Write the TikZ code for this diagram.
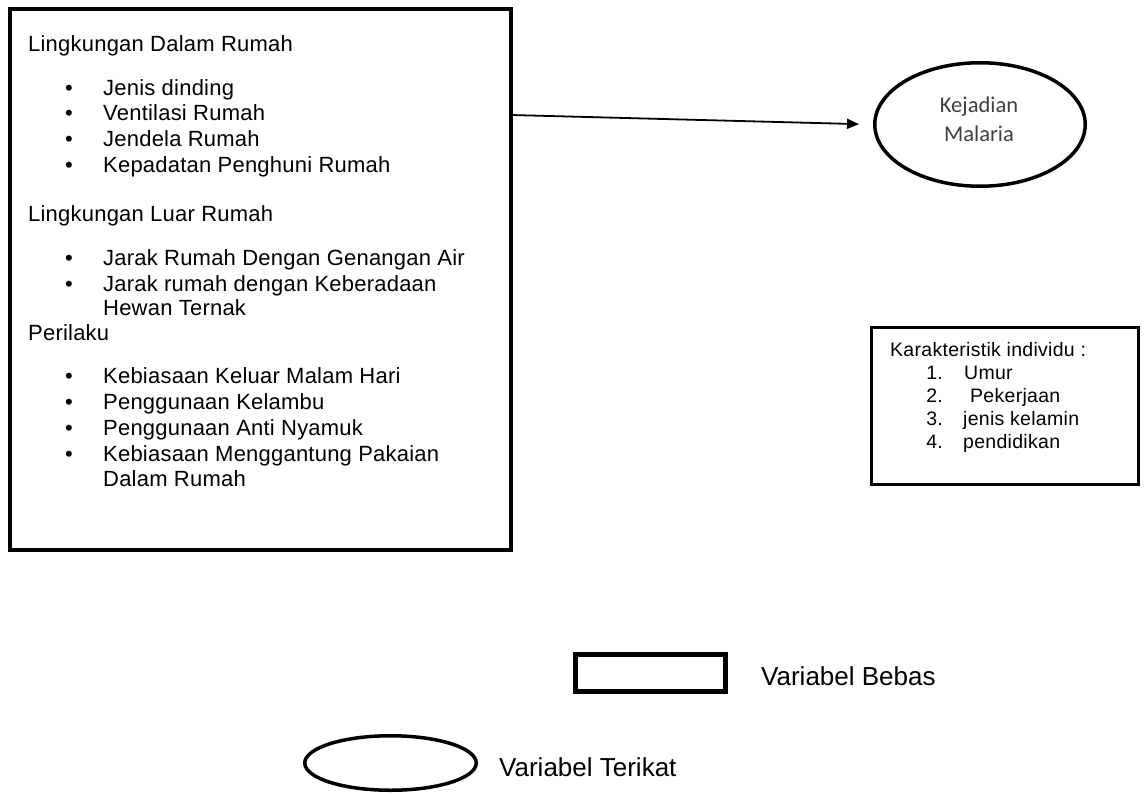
\documentclass[tikz,border=0pt]{standalone}
\usepackage{fontspec}
\setmainfont{Liberation Sans}
\newfontfamily\trkfont[LetterSpace=1]{Liberation Sans}
\newfontfamily\ktrkfont[LetterSpace=1.5]{Liberation Sans}
\newfontfamily\calfont{Carlito}
\usetikzlibrary{arrows.meta,shapes.geometric}
\definecolor{elltext}{HTML}{404040}
\begin{document}
\begin{tikzpicture}[x=1pt,y=-1pt,
  boxtext/.style={anchor=base west,inner sep=0pt,font=\trkfont\fontsize{22}{26}\selectfont},
  bul/.style={anchor=base,inner sep=0pt,font=\fontsize{22}{26}\selectfont},
  ktext/.style={anchor=base west,inner sep=0pt,font=\ktrkfont\fontsize{19.5}{23}\selectfont},
  knum/.style={anchor=base east,inner sep=0pt,font=\ktrkfont\fontsize{19.5}{23}\selectfont},
  legtext/.style={anchor=base west,inner sep=0pt,font=\fontsize{26}{30}\selectfont},
  elltxt/.style={anchor=base,inner sep=0pt,text=elltext,font=\calfont\fontsize{22.5}{29}\selectfont},
  varbox/.style={draw,rectangle,inner sep=0pt},
  varell/.style={draw,ellipse,inner sep=0pt},
  conn/.style={line width=1.8pt,-{Triangle[length=12pt,width=10pt]}}]
\useasboundingbox[fill=white] (0,0) rectangle (1145,795);

% main box
\node[varbox,line width=4pt,minimum width=501pt,minimum height=541.5pt] (main) at (260,279.25) {};
\node[boxtext] (h1) at (28,51.7) {Lingkungan Dalam Rumah};
\node[bul] (b1) at (69,95) {•};   \node[boxtext] (t1) at (103,95) {Jenis dinding};
\node[bul] (b2) at (69,120.7) {•}; \node[boxtext] (t2) at (103,120.7) {Ventilasi Rumah};
\node[bul] (b3) at (69,146.7) {•}; \node[boxtext] (t3) at (103,146.7) {Jendela Rumah};
\node[bul] (b4) at (69,172.3) {•}; \node[boxtext] (t4) at (103,172.3) {Kepadatan Penghuni Rumah};
\node[boxtext] (h2) at (28,221.7) {Lingkungan Luar Rumah};
\node[bul] (b5) at (69,265) {•}; \node[boxtext] (t5) at (103,265) {Jarak Rumah Dengan Genangan Air};
\node[bul] (b6) at (69,291) {•}; \node[boxtext] (t6) at (103,291) {Jarak rumah dengan Keberadaan};
\node[boxtext] (t6b) at (103,315.5) {Hewan Ternak};
\node[boxtext] (h3) at (28,340) {Perilaku};
\node[bul] (b7) at (69,383.3) {•}; \node[boxtext] (t7) at (103,383.3) {Kebiasaan Keluar Malam Hari};
\node[bul] (b8) at (69,409.3) {•}; \node[boxtext] (t8) at (103,409.3) {Penggunaan Kelambu};
\node[bul] (b9) at (69,435) {•}; \node[boxtext] (t9) at (103,435) {Penggunaan Anti Nyamuk};
\node[bul] (b10) at (69,461.7) {•}; \node[boxtext] (t10) at (103,461.7) {Kebiasaan Menggantung Pakaian};
\node[boxtext] (t10b) at (103,486.7) {Dalam Rumah};

% outcome ellipse
\node[varell,line width=3.5pt,minimum width=210.5pt,minimum height=123.5pt] (ell) at (980,124.5) {};
\node[elltxt] (e1) at (979,112) {Kejadian};
\node[elltxt] (e2) at (979,141) {Malaria};

% arrow
\coordinate (arrS) at (511,115);
\draw[conn,shorten >=14pt] (arrS) -- (ell.west);

% karakteristik box
\node[varbox,line width=3pt,minimum width=267pt,minimum height=157.5pt] (kar) at (1005,405.75) {};
\node[ktext] (k0) at (890,356) {Karakteristik individu :};
\node[knum] (n1) at (943,379) {1.}; \node[ktext] (k1) at (964,379) {Umur};
\node[knum] (n2) at (943,402) {2.}; \node[ktext] (k2) at (970,402) {Pekerjaan};
\node[knum] (n3) at (943,425) {3.}; \node[ktext] (k3) at (963,425) {jenis kelamin};
\node[knum] (n4) at (943,448) {4.}; \node[ktext] (k4) at (963,448) {pendidikan};

% legend
\node[varbox,line width=5pt,minimum width=150pt,minimum height=37pt] (legrect) at (650.5,673) {};
\node[legtext] (lb) at (761,685) {Variabel Bebas};
\node[varell,line width=3.5pt,minimum width=171.5pt,minimum height=54.5pt] (legell) at (390.5,763) {};
\node[legtext] (lt) at (499,776) {Variabel Terikat};
\end{tikzpicture}
\end{document}
